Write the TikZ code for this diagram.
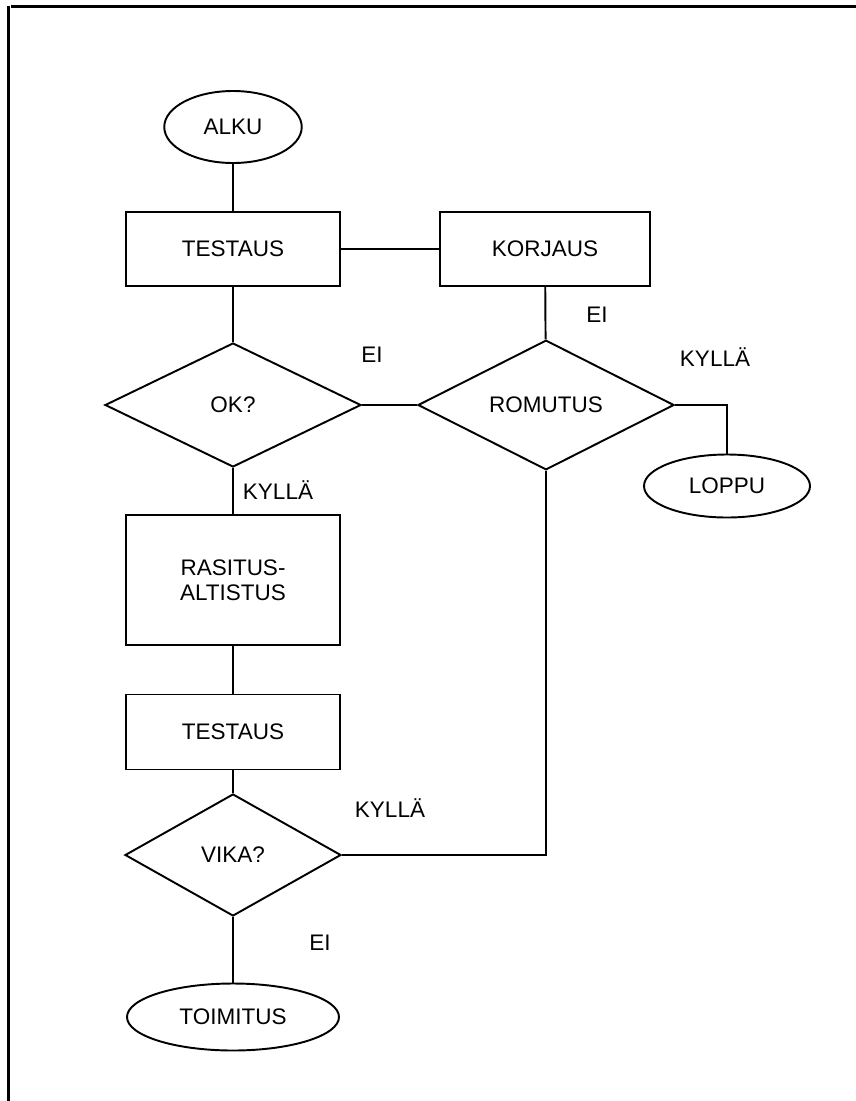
\documentclass[tikz,border=0pt]{standalone}
\usepackage{fontspec}
\setmainfont{Liberation Sans}
\usepackage{tikz}
\usetikzlibrary{shapes,positioning}

\begin{document}
\begin{tikzpicture}[line width=1.1pt, font=\fontsize{12.8}{14}\selectfont,
    term/.style={ellipse,draw=black,inner sep=0pt},
    box/.style={rectangle,draw=black,minimum width=4.28cm,align=center},
    ask/.style={diamond,draw=black,inner sep=0pt,minimum width=5.12cm,minimum height=2.48cm}]
  \useasboundingbox (0,0) rectangle (17.12,-22.02);
  % page frame
  \draw[line width=1.7pt] (0.17,-0.12) -- (0.17,-22.02);
  \draw[line width=1.7pt] (0.22,-0.13) -- (17.12,-0.13);

   \node[term,minimum width=2.75cm,minimum height=1.44cm] (alku) at (4.66,-2.54) {ALKU};
   \node[box,minimum height=1.48cm] (testaus) at (4.66,-4.98) {TESTAUS};
   \node[box,minimum width=4.2cm,minimum height=1.48cm] (korjaus) at (10.9,-4.98) {KORJAUS};
   \node[ask] (ok) at (4.66,-8.1) {OK?};
   \node[ask] (romutus) at (10.92,-8.1) {ROMUTUS};
   \node[term,minimum width=3.32cm,minimum height=1.26cm] (loppu) at (14.54,-9.72) {LOPPU};
   \node[box,minimum height=2.6cm] (rasitus) at (4.66,-11.6) {RASITUS-\\ALTISTUS};
   \node[box,minimum height=1.5cm] (testaus2) at (4.66,-14.64) {TESTAUS};
   \node[ask,minimum width=4.32cm,minimum height=2.44cm] (vika) at (4.66,-17.1) {VIKA?};
   \node[term,minimum width=4.24cm,minimum height=1.34cm] (toimitus) at (4.66,-20.34) {TOIMITUS};

   \node (ei1) at (7.44,-7.1) {EI};
   \node (ei2) at (11.94,-6.3) {EI};
   \node (kylla1) at (14.3,-7.14) {KYLLÄ};
   \node (kylla2) at (5.56,-9.8) {KYLLÄ};
   \node (kylla3) at (7.8,-16.16) {KYLLÄ};
   \node (ei3) at (6.4,-18.85) {EI};

  \path
    (alku) edge (testaus)
    (testaus) edge (korjaus)
    (testaus) edge (ok)
    (korjaus) edge (romutus)
    (ok) edge (romutus)
    (ok) edge (rasitus)
    (rasitus) edge (testaus2)
    (testaus2) edge (vika)
    (vika) edge (toimitus);
  \draw (romutus.east) -| (loppu.north);
  \draw (vika.east) -| (romutus.south);
  \end{tikzpicture}
\end{document}
